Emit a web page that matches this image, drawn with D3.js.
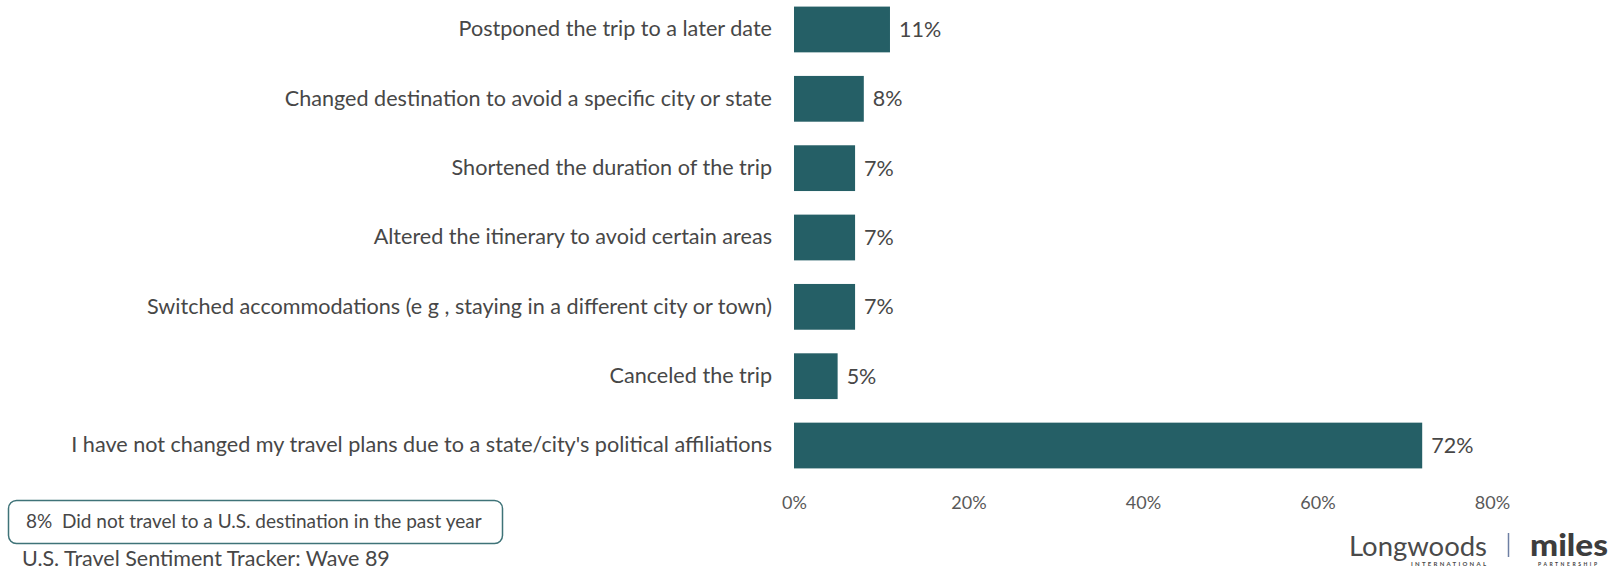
<!DOCTYPE html>
<html>
<head>
<meta charset="utf-8">
<script src="https://cdn.jsdelivr.net/npm/d3@7"></script>
<style>
  html, body { margin: 0; padding: 0; background: #ffffff; }
  svg { display: block; }
  text { font-family: Lato, "Open Sans", sans-serif; }
</style>
</head>
<body>
<svg id="chart" width="1608" height="572"></svg>
<script>
// Survey responses: how travel plans changed because of a state's / city's politics
const categories = [
  "Postponed the trip to a later date",
  "Changed destination to avoid a specific city or state",
  "Shortened the duration of the trip",
  "Altered the itinerary to avoid certain areas",
  "Switched accommodations (e g , staying in a different city or town)",
  "Canceled the trip",
  "I have not changed my travel plans due to a state/city's political affiliations"
];
const values = [11, 8, 7, 7, 7, 5, 72];
const tickValues = [0, 20, 40, 60, 80];
const noteText = "8%  Did not travel to a U.S. destination in the past year";
const sourceText = "U.S. Travel Sentiment Tracker: Wave 89";

const svg = d3.select("#chart");
const barColor = "#255f66";
const labelColor = "#474747";
const tickColor = "#595959";

const x = d3.scaleLinear().domain([0, 80]).range([794, 1492]);
const y = d3.scaleBand()
  .domain(categories)
  .range([-5.2, 480.2])
  .paddingInner(0.34)
  .paddingOuter(0.17);

// bars
svg.append("g").selectAll("rect")
  .data(values)
  .join("rect")
  .attr("x", x(0))
  .attr("y", (d, i) => y(categories[i]))
  .attr("width", d => x(d) - x(0))
  .attr("height", y.bandwidth())
  .attr("fill", barColor);

// value labels
svg.append("g").selectAll("text")
  .data(values)
  .join("text")
  .attr("x", d => x(d) + 9)
  .attr("y", (d, i) => y(categories[i]) + y.bandwidth() / 2)
  .attr("dy", "0.35em")
  .attr("font-size", 21.5)
  .attr("fill", labelColor)
  .text(d => d + "%");

// category axis (left, no line or ticks)
const yAxis = svg.append("g")
  .attr("transform", "translate(772,0)")
  .call(d3.axisLeft(y).tickSize(0).tickPadding(0));
yAxis.select(".domain").remove();
yAxis.selectAll("text")
  .attr("font-size", 21.6)
  .attr("font-family", "Lato, 'Open Sans', sans-serif")
  .attr("fill", labelColor);

// value axis (bottom, labels only)
const xAxis = svg.append("g")
  .attr("transform", "translate(0,496)")
  .call(d3.axisBottom(x).tickValues(tickValues).tickFormat(d => d + "%").tickSize(0).tickPadding(0));
xAxis.select(".domain").remove();
xAxis.selectAll("text")
  .attr("font-size", 18)
  .attr("font-family", "Lato, 'Open Sans', sans-serif")
  .attr("fill", tickColor);

// note box
svg.append("rect")
  .attr("x", 8.5).attr("y", 500.5)
  .attr("width", 494).attr("height", 43)
  .attr("rx", 8).attr("ry", 8)
  .attr("fill", "none")
  .attr("stroke", "#3f7378")
  .attr("stroke-width", 1.5);
svg.append("text")
  .attr("x", 26).attr("y", 528)
  .attr("font-size", 19)
  .attr("fill", labelColor)
  .style("white-space", "pre")
  .text(noteText);

// source line
svg.append("text")
  .attr("x", 22).attr("y", 566)
  .attr("font-size", 21.5)
  .attr("fill", labelColor)
  .text(sourceText);

// logos
const logo = svg.append("g");
logo.append("text")
  .attr("x", 1349).attr("y", 556)
  .attr("font-size", 26)
  .attr("font-family", "'DejaVu Sans', sans-serif")
  .attr("fill", "#4a4a4a")
  .attr("textLength", 138)
  .attr("lengthAdjust", "spacingAndGlyphs")
  .text("Longwoods");
logo.append("text")
  .attr("x", 1411).attr("y", 566)
  .attr("font-size", 6)
  .attr("font-weight", 700)
  .attr("fill", "#4a4a4a")
  .attr("textLength", 75)
  .text("INTERNATIONAL");
logo.append("line")
  .attr("x1", 1508.5).attr("x2", 1508.5)
  .attr("y1", 533).attr("y2", 557)
  .attr("stroke", "#6d7fa3")
  .attr("stroke-width", 1.5);
logo.append("text")
  .attr("x", 1530).attr("y", 556)
  .attr("font-size", 31)
  .attr("font-weight", 900)
  .attr("fill", "#3d3d3d")
  .attr("textLength", 78)
  .attr("lengthAdjust", "spacingAndGlyphs")
  .text("miles");
logo.append("text")
  .attr("x", 1538).attr("y", 566)
  .attr("font-size", 5)
  .attr("font-weight", 700)
  .attr("fill", "#3d3d3d")
  .attr("textLength", 59)
  .text("PARTNERSHIP");
</script>
</body>
</html>
